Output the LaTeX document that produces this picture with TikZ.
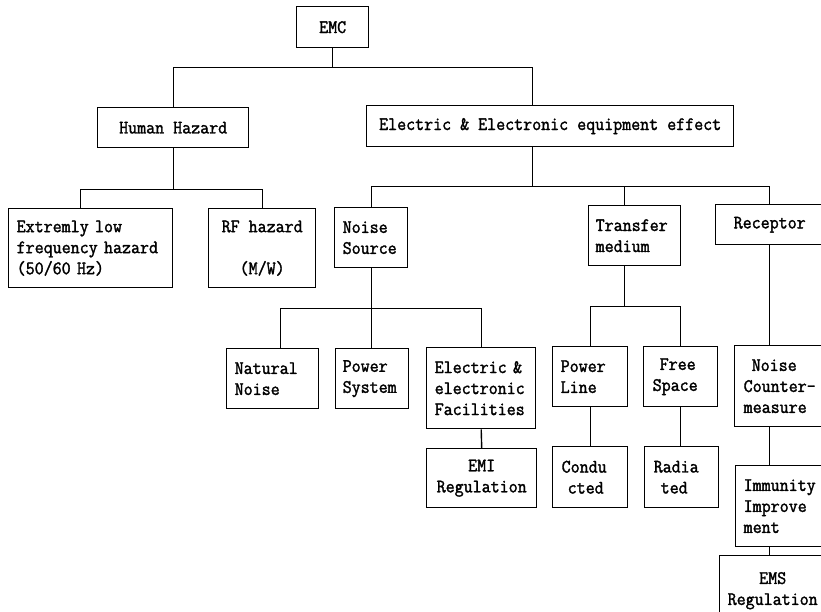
\documentclass[tikz,border=0pt]{standalone}
\usepackage{fontspec}
\newfontfamily\twfont[FakeBold=1.6, FakeStretch=0.92]{Latin Modern Mono}
\begin{document}
\begin{tikzpicture}[x=1pt,y=-1pt,
  bx/.style={draw, line width=1.4pt, anchor=north west, inner ysep=0pt,
    font=\twfont\fontsize{19}{21}\selectfont},
  lnk/.style={line width=1.4pt}]
\useasboundingbox (0,0) rectangle (821,612);
\clip (0,0) rectangle (821,612);
% level 0
\node[bx, inner xsep=2pt, minimum width=72pt, minimum height=41pt, align=center] (emc) at (296,6) {EMC};
% level 1
\node[bx, inner xsep=2pt, minimum width=151pt, minimum height=40pt, align=center] (hh) at (97,107) {Human Hazard};
\node[bx, inner xsep=2pt, minimum width=367pt, minimum height=41pt, align=center] (ee) at (366,105) {Electric \& Electronic equipment effect};
% level 2
\node[bx, inner xsep=8pt, text width=148pt, minimum height=79pt, align=left] (el) at (8,208) {Extremly low\\frequency hazard\\(50/60 Hz)};
\node[bx, inner xsep=2pt, minimum width=107pt, minimum height=79pt, align=center] (rf) at (208,208) {RF hazard\\\mbox{}\\(M/W)};
\node[bx, inner xsep=8pt, text width=57pt, minimum height=60pt, align=left] (ns) at (334,207) {Noise\\Source};
\node[bx, inner xsep=7pt, text width=78pt, minimum height=60pt, align=left] (tm) at (588,205) {Transfer\\medium};
\node[bx, inner xsep=2pt, minimum width=108pt, minimum height=40pt, align=center] (rc) at (715,204) {Receptor};
% level 3
\node[bx, inner xsep=8pt, text width=76pt, minimum height=60pt, align=left] (nn) at (226,348) {Natural\\Noise};
\node[bx, inner xsep=7pt, text width=59pt, minimum height=60pt, align=left] (ps) at (335,348) {Power\\System};
\node[bx, inner xsep=8pt, text width=93pt, minimum height=81pt, align=left] (ef) at (426,347) {Electric \&\\electronic\\Facilities};
\node[bx, inner xsep=8pt, text width=59pt, minimum height=60pt, align=left] (pl) at (552,346) {Power\\Line};
\node[bx, inner xsep=9pt, text width=56pt, minimum height=60pt, align=left] (fs) at (643,346) {\hspace{7pt}Free\\Space};
\node[bx, inner xsep=9pt, text width=75pt, minimum height=81pt, align=left] (nc) at (734,345) {\hspace{8pt}Noise\\Counter-\\measure};
% level 4
\node[bx, inner xsep=2pt, minimum width=110pt, minimum height=59pt, align=center] (emi) at (426,448) {EMI\\Regulation};
\node[bx, inner xsep=9pt, text width=57pt, minimum height=61pt, align=left] (cd) at (552,446) {Condu\\\hspace{6pt}cted};
\node[bx, inner xsep=9pt, text width=56pt, minimum height=61pt, align=left] (rd) at (644,446) {Radia\\\hspace{7pt}ted};
\node[bx, inner xsep=8pt, text width=76pt, minimum height=81pt, align=left] (im) at (735,465) {Immunity\\Improve\\ment};
\node[bx, inner xsep=2pt, minimum width=106pt, minimum height=70pt, align=center] (ems) at (719,555) {EMS\\Regulation};
% connectors
\draw[lnk] (emc.south) -- ++(0,19) coordinate (j0);
\draw[lnk] (hh.north) |- (j0) -| ([xshift=-17.5pt]ee.north);
\draw[lnk] (hh.south) -- ++(0,41) coordinate (j1);
\draw[lnk] ([xshift=-10pt]el.north) |- (j1) -| (rf.north);
\draw[lnk] ([xshift=-17.5pt]ee.south) -- ++(0,39) coordinate (j2);
\draw[lnk] (ns.north) |- (j2) -| (rc.north);
\draw[lnk] ([xshift=-10pt]tm.north) |- (j2);
\draw[lnk] (ns.south) -- ++(0,40) coordinate (j3);
\draw[lnk] ([xshift=8pt]nn.north) |- (j3) -| (ef.north);
\draw[lnk] (j3) -- (j3 |- ps.north);
\draw[lnk] (ef.south) -- (emi.north);
\draw[lnk] ([xshift=-10pt]tm.south) -- ++(0,40) coordinate (j4);
\draw[lnk] (pl.north) |- (j4) -| (fs.north);
\draw[lnk] (pl.south) -- (cd.north);
\draw[lnk] (fs.south) -- (fs.south |- rd.north);
\draw[lnk] (rc.south) -- (rc.south |- nc.north);
\draw[lnk] (nc.south -| rc.south) -- (im.north -| rc.south);
\draw[lnk] (im.south -| rc.south) -- (ems.north -| rc.south);
\end{tikzpicture}
\end{document}
